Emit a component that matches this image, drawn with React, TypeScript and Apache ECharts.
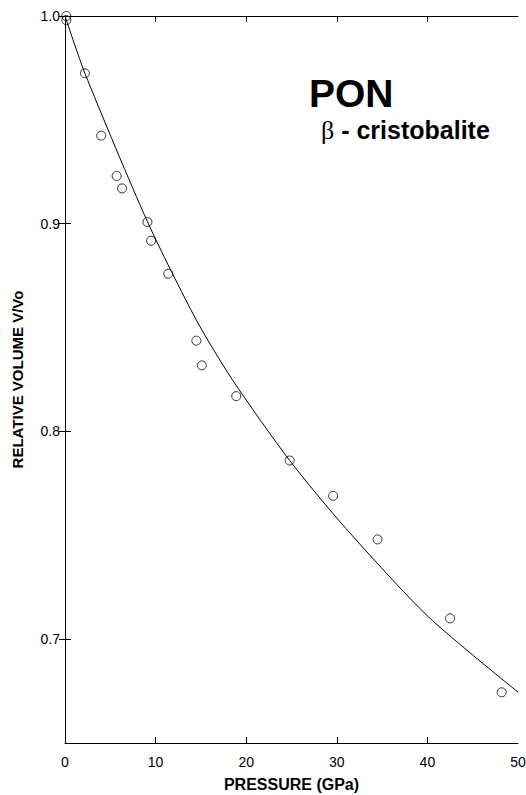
import React, { useEffect, useRef } from "react";
import * as echarts from "echarts";

// Measured data (pressure in GPa, relative volume V/Vo)
const pressure = [0.15, 0.15, 2.2, 4.0, 5.7, 6.3, 9.1, 9.5, 11.4, 14.5, 15.1, 18.9, 24.8, 29.6, 34.5, 42.5, 48.2];
const volume = [1.0, 0.998, 0.9724, 0.9424, 0.923, 0.917, 0.9008, 0.8918, 0.8759, 0.8437, 0.8318, 0.817, 0.786, 0.769, 0.748, 0.71, 0.6744];

// Fitted curve
const fitPressure = [0, 2.2, 9.1, 14.5, 18.5, 24.8, 31.0, 40.1, 50];
const fitVolume = [1.0, 0.9724, 0.901, 0.8536, 0.8247, 0.786, 0.7533, 0.7108, 0.6745];

const yTicks = [0.7, 0.8, 0.9, 1.0];
const xTicksInner = [10, 20, 30, 40];

const FONT = "'Liberation Sans', Arial, Helvetica, sans-serif";

export default function App() {
  const ref = useRef<HTMLDivElement>(null);

  useEffect(() => {
    if (!ref.current) return;
    const chart = echarts.init(ref.current, null, { renderer: "svg" });
    const pts = pressure.map((p, i) => [p, volume[i]]);
    const fit = fitPressure.map((p, i) => [p, fitVolume[i]]);
    const axisLine = { show: true, lineStyle: { color: "#000", width: 1 } };
    chart.setOption({
      animation: false,
      backgroundColor: "#fff",
      grid: { left: 65, right: 8, top: 16, bottom: 52, containLabel: false, outerBoundsMode: "none" },
      xAxis: [
        {
          type: "value",
          min: 0,
          max: 50,
          interval: 10,
          position: "bottom",
          axisLine,
          axisTick: { show: true, inside: true, length: 6, lineStyle: { color: "#000" }, customValues: xTicksInner },
          axisLabel: { color: "#000", fontFamily: FONT, fontSize: 14, margin: 12 },
          splitLine: { show: false },
          name: "PRESSURE (GPa)",
          nameLocation: "middle",
          nameGap: 33,
          nameMoveOverlap: false,
          nameTextStyle: { color: "#000", fontFamily: FONT, fontWeight: "bold", fontSize: 16 },
        },
        {
          type: "value",
          min: 0,
          max: 50,
          interval: 10,
          position: "top",
          axisLine,
          axisTick: { show: true, inside: true, length: 6, lineStyle: { color: "#000" }, customValues: xTicksInner },
          axisLabel: { show: false },
          splitLine: { show: false },
        },
      ],
      yAxis: [
        {
          type: "value",
          min: 0.65,
          max: 1.0,
          position: "left",
          axisLine,
          axisTick: { show: true, inside: true, length: 6, lineStyle: { color: "#000" }, customValues: yTicks },
          axisLabel: {
            color: "#000",
            fontFamily: FONT,
            fontSize: 14,
            margin: 5,
            customValues: yTicks,
            formatter: (v: number) => v.toFixed(1),
          },
          splitLine: { show: false },
          name: "RELATIVE VOLUME V/Vo",
          nameLocation: "middle",
          nameGap: 40,
          nameMoveOverlap: false,
          nameTextStyle: { color: "#000", fontFamily: FONT, fontWeight: "bold", fontSize: 15 },
        },
        {
          type: "value",
          min: 0.65,
          max: 1.0,
          position: "right",
          axisLine,
          axisTick: { show: true, inside: true, length: 6, lineStyle: { color: "#000" }, customValues: yTicks },
          axisLabel: { show: false },
          splitLine: { show: false },
        },
      ],
      graphic: [
        {
          type: "text",
          left: 309,
          top: 74,
          style: { text: "PON", fill: "#000", font: `bold 39px ${FONT}` },
        },
        {
          type: "text",
          left: 321,
          top: 117,
          style: {
            text: "{b|β}{t| - cristobalite}",
            rich: {
              b: { fontFamily: "'Liberation Serif', 'DejaVu Serif', serif", fontSize: 26, fill: "#000", color: "#000" },
              t: { fontFamily: FONT, fontWeight: "bold", fontSize: 25, fill: "#000", color: "#000" },
            },
          },
        },
      ],
      series: [
        {
          type: "line",
          data: fit,
          xAxisIndex: 0,
          yAxisIndex: 0,
          showSymbol: false,
          symbol: "none",
          smooth: 0.25,
          lineStyle: { color: "#000", width: 1 },
          silent: true,
          z: 2,
        },
        {
          type: "scatter",
          data: pts,
          xAxisIndex: 0,
          yAxisIndex: 0,
          symbol: "circle",
          symbolSize: 9,
          itemStyle: { color: "rgba(0,0,0,0)", borderColor: "#000", borderWidth: 1 },
          z: 3,
        },
      ],
    });
    return () => chart.dispose();
  }, []);

  return (
    <div
      ref={ref}
      style={{ position: "fixed", left: 0, top: 0, width: 526, height: 795, background: "#fff" }}
    />
  );
}
